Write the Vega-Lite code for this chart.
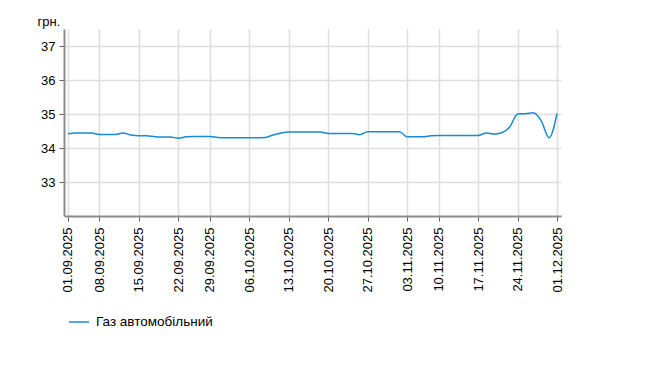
{
  "$schema": "https://vega.github.io/schema/vega-lite/v6.json",
  "width": 497,
  "height": 187,
  "autosize": {"type": "none"},
  "padding": {"left": 64, "top": 29, "right": 94, "bottom": 165},
  "background": "white",
  "config": {
    "font": "Liberation Sans",
    "view": {"stroke": null},
    "axis": {"labelFont": "Liberation Sans", "titleFont": "Liberation Sans"}
  },
  "data": {
    "values": [
      {"date": "01.09.2025", "value": 34.42, "series": "Газ автомобільний"},
      {"date": "02.09.2025", "value": 34.44, "series": "Газ автомобільний"},
      {"date": "03.09.2025", "value": 34.44, "series": "Газ автомобільний"},
      {"date": "04.09.2025", "value": 34.44, "series": "Газ автомобільний"},
      {"date": "08.09.2025", "value": 34.40, "series": "Газ автомобільний"},
      {"date": "09.09.2025", "value": 34.40, "series": "Газ автомобільний"},
      {"date": "10.09.2025", "value": 34.40, "series": "Газ автомобільний"},
      {"date": "11.09.2025", "value": 34.44, "series": "Газ автомобільний"},
      {"date": "12.09.2025", "value": 34.38, "series": "Газ автомобільний"},
      {"date": "15.09.2025", "value": 34.36, "series": "Газ автомобільний"},
      {"date": "16.09.2025", "value": 34.36, "series": "Газ автомобільний"},
      {"date": "17.09.2025", "value": 34.33, "series": "Газ автомобільний"},
      {"date": "18.09.2025", "value": 34.32, "series": "Газ автомобільний"},
      {"date": "19.09.2025", "value": 34.32, "series": "Газ автомобільний"},
      {"date": "22.09.2025", "value": 34.29, "series": "Газ автомобільний"},
      {"date": "23.09.2025", "value": 34.33, "series": "Газ автомобільний"},
      {"date": "24.09.2025", "value": 34.34, "series": "Газ автомобільний"},
      {"date": "25.09.2025", "value": 34.34, "series": "Газ автомобільний"},
      {"date": "29.09.2025", "value": 34.34, "series": "Газ автомобільний"},
      {"date": "30.09.2025", "value": 34.31, "series": "Газ автомобільний"},
      {"date": "01.10.2025", "value": 34.30, "series": "Газ автомобільний"},
      {"date": "02.10.2025", "value": 34.30, "series": "Газ автомобільний"},
      {"date": "03.10.2025", "value": 34.30, "series": "Газ автомобільний"},
      {"date": "06.10.2025", "value": 34.30, "series": "Газ автомобільний"},
      {"date": "07.10.2025", "value": 34.30, "series": "Газ автомобільний"},
      {"date": "08.10.2025", "value": 34.31, "series": "Газ автомобільний"},
      {"date": "09.10.2025", "value": 34.38, "series": "Газ автомобільний"},
      {"date": "10.10.2025", "value": 34.44, "series": "Газ автомобільний"},
      {"date": "13.10.2025", "value": 34.47, "series": "Газ автомобільний"},
      {"date": "14.10.2025", "value": 34.47, "series": "Газ автомобільний"},
      {"date": "15.10.2025", "value": 34.47, "series": "Газ автомобільний"},
      {"date": "16.10.2025", "value": 34.47, "series": "Газ автомобільний"},
      {"date": "17.10.2025", "value": 34.47, "series": "Газ автомобільний"},
      {"date": "20.10.2025", "value": 34.43, "series": "Газ автомобільний"},
      {"date": "21.10.2025", "value": 34.43, "series": "Газ автомобільний"},
      {"date": "22.10.2025", "value": 34.43, "series": "Газ автомобільний"},
      {"date": "23.10.2025", "value": 34.43, "series": "Газ автомобільний"},
      {"date": "24.10.2025", "value": 34.39, "series": "Газ автомобільний"},
      {"date": "27.10.2025", "value": 34.48, "series": "Газ автомобільний"},
      {"date": "28.10.2025", "value": 34.48, "series": "Газ автомобільний"},
      {"date": "29.10.2025", "value": 34.48, "series": "Газ автомобільний"},
      {"date": "30.10.2025", "value": 34.48, "series": "Газ автомобільний"},
      {"date": "31.10.2025", "value": 34.48, "series": "Газ автомобільний"},
      {"date": "03.11.2025", "value": 34.33, "series": "Газ автомобільний"},
      {"date": "04.11.2025", "value": 34.33, "series": "Газ автомобільний"},
      {"date": "05.11.2025", "value": 34.33, "series": "Газ автомобільний"},
      {"date": "06.11.2025", "value": 34.36, "series": "Газ автомобільний"},
      {"date": "10.11.2025", "value": 34.37, "series": "Газ автомобільний"},
      {"date": "11.11.2025", "value": 34.37, "series": "Газ автомобільний"},
      {"date": "12.11.2025", "value": 34.37, "series": "Газ автомобільний"},
      {"date": "13.11.2025", "value": 34.37, "series": "Газ автомобільний"},
      {"date": "14.11.2025", "value": 34.37, "series": "Газ автомобільний"},
      {"date": "17.11.2025", "value": 34.37, "series": "Газ автомобільний"},
      {"date": "18.11.2025", "value": 34.44, "series": "Газ автомобільний"},
      {"date": "19.11.2025", "value": 34.41, "series": "Газ автомобільний"},
      {"date": "20.11.2025", "value": 34.45, "series": "Газ автомобільний"},
      {"date": "21.11.2025", "value": 34.62, "series": "Газ автомобільний"},
      {"date": "24.11.2025", "value": 35.00, "series": "Газ автомобільний"},
      {"date": "25.11.2025", "value": 35.01, "series": "Газ автомобільний"},
      {"date": "26.11.2025", "value": 35.04, "series": "Газ автомобільний"},
      {"date": "27.11.2025", "value": 34.80, "series": "Газ автомобільний"},
      {"date": "28.11.2025", "value": 34.30, "series": "Газ автомобільний"},
      {"date": "01.12.2025", "value": 35.02, "series": "Газ автомобільний"}
    ]
  },
  "mark": {"type": "line", "interpolate": "monotone", "strokeWidth": 1.5},
  "encoding": {
    "x": {
      "field": "date",
      "type": "ordinal",
      "sort": null,
      "scale": {"type": "point", "padding": 0.5},
      "axis": {
        "title": null,
        "values": ["01.09.2025", "08.09.2025", "15.09.2025", "22.09.2025", "29.09.2025", "06.10.2025", "13.10.2025", "20.10.2025", "27.10.2025", "03.11.2025", "10.11.2025", "17.11.2025", "24.11.2025", "01.12.2025"],
        "labelAngle": -90,
        "labelFontSize": 13,
        "labelColor": "#000000",
        "labelPadding": 6,
        "domainColor": "#8c8c8c",
        "domainWidth": 2,
        "tickColor": "#666666",
        "tickSize": 5,
        "tickWidth": 1,
        "grid": true,
        "gridColor": "#dddddd",
        "gridWidth": 1.5
      }
    },
    "y": {
      "field": "value",
      "type": "quantitative",
      "scale": {"domain": [32, 37.5], "nice": false, "zero": false},
      "axis": {
        "title": "грн.",
        "titleAngle": 0,
        "titleAlign": "left",
        "titleBaseline": "alphabetic",
        "titleX": -27,
        "titleY": -4,
        "titleFontSize": 13,
        "titleFontWeight": "normal",
        "titleColor": "#000000",
        "values": [33, 34, 35, 36, 37],
        "labelFontSize": 13,
        "labelColor": "#000000",
        "labelPadding": 4,
        "domainColor": "#8c8c8c",
        "domainWidth": 2,
        "tickColor": "#666666",
        "tickSize": 5,
        "tickWidth": 1,
        "grid": true,
        "gridColor": "#dddddd",
        "gridWidth": 1.5
      }
    },
    "color": {
      "field": "series",
      "type": "nominal",
      "scale": {"range": ["#1a8ad4"]},
      "legend": {
        "title": null,
        "orient": "none",
        "legendX": 4,
        "legendY": 282,
        "symbolType": "stroke",
        "symbolSize": 400,
        "symbolStrokeWidth": 1.5,
        "labelFontSize": 13.5,
        "labelColor": "#000000",
        "labelOffset": 6
      }
    }
  }
}
